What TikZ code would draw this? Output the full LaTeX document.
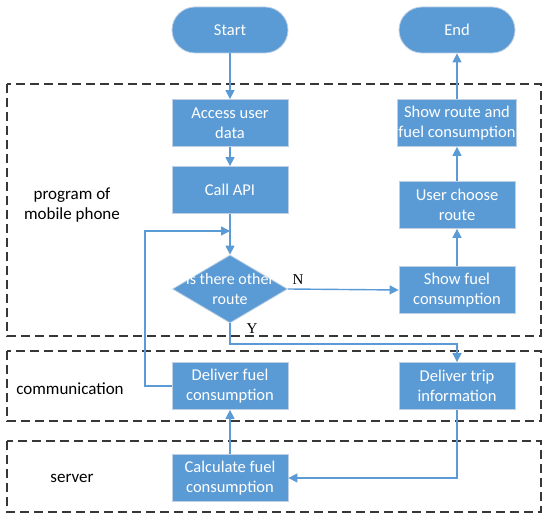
\documentclass[tikz,border=0pt]{standalone}
\usepackage{fontspec}
\setmainfont{Carlito}
\newfontfamily\tnr{Liberation Serif}
\usetikzlibrary{arrows.meta,shapes.geometric}
\definecolor{flowblue}{RGB}{91,155,213}
\definecolor{edgeblue}{RGB}{190,208,226}
\definecolor{dashgray}{RGB}{55,55,55}
\tikzset{
  box/.style={rectangle, fill=flowblue, draw=edgeblue, line width=0.8pt,
    minimum width=116pt, minimum height=47pt, inner sep=1pt, text=white,
    align=center, font=\fontsize{16.5}{20}\selectfont},
  term/.style={box, rounded corners=23pt, minimum height=46pt},
  decision/.style={diamond, fill=flowblue, draw=edgeblue, line width=0.8pt,
    minimum width=115pt, minimum height=68pt, inner sep=0pt},
  dectext/.style={text=white, align=center, inner sep=0pt,
    font=\fontsize{16}{19.5}\selectfont},
  region/.style={draw=dashgray, line width=1.3pt, dash pattern=on 9pt off 5pt},
  regionlabel/.style={align=center, inner sep=0pt, font=\fontsize{17}{20}\selectfont},
  flow/.style={draw=flowblue, line width=1.4pt, -{Triangle[length=9pt,width=9pt]}},
  yn/.style={inner sep=0pt, font=\tnr\fontsize{15}{15}\selectfont}
}
\begin{document}
\begin{tikzpicture}[x=1pt,y=-1pt]
\useasboundingbox (0,0) rectangle (550,518);
% regions
\draw[region] (7,84) rectangle (541,336);
\draw[region] (7,351) rectangle (541,421);
\draw[region] (7,441) rectangle (541,512);
\node[regionlabel] (lprog) at (72,205) {program of\\mobile phone};
\node[regionlabel] (lcomm) at (70,389) {communication};
\node[regionlabel] (lserv) at (72,478) {server};
% nodes
\node[term] (start) at (230,30) {Start};
\node[term] (end) at (457,30) {End};
\node[box] (access) at (230,123) {Access user\\data};
\node[box] (showroute) at (457,123) {Show route and\\fuel consumption};
\node[box] (callapi) at (230,190) {Call API};
\node[box] (choose) at (457,205) {User choose\\route};
\node[decision] (dec) at (230,289) {};
\node[dectext] (dect) at (230,289) {Is there other\\route};
\node[box] (showfuel) at (457,290) {Show fuel\\consumption};
\node[box] (delfuel) at (230,386) {Deliver fuel\\consumption};
\node[box] (deltrip) at (457,386) {Deliver trip\\information};
\node[box] (calc) at (230,478) {Calculate fuel\\consumption};
\coordinate (merge) at (230,231);
% connectors
\draw[flow] (start) -- (access);
\draw[flow] (access) -- (callapi);
\draw[flow] (callapi) -- (dec);
\draw[flow] (dec.east) -- (showfuel.west);
\draw[flow] (showfuel) -- (choose);
\draw[flow] (choose) -- (showroute);
\draw[flow] (showroute) -- (end);
\draw[flow] (dec.south) |- (457,344) -- (deltrip.north);
\draw[flow] (deltrip.south) |- (calc.east);
\draw[flow] (calc) -- (delfuel);
\draw[flow] (delfuel.west) -| (145,231) -- (merge);
\node[yn] (nlab) at (298,280) {N};
\node[yn] (ylab) at (252,329) {Y};
\end{tikzpicture}
\end{document}
